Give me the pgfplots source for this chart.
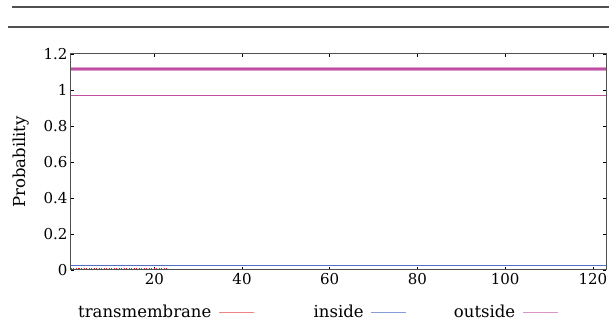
\documentclass[border=0pt]{standalone}
\usepackage{fontspec}
\setmainfont{DejaVu Serif}
\usepackage{pgfplots}
\pgfplotsset{compat=1.18}
\definecolor{tmred}{HTML}{E02020}
\definecolor{inblue}{HTML}{5470C8}
\definecolor{outpink}{HTML}{C04FA4}
\definecolor{axgray}{HTML}{505050}
\begin{document}
\begin{tikzpicture}
\begin{axis}[
  scale only axis,
  width=535pt, height=216pt,
  xmin=1, xmax=123, ymin=0, ymax=1.2,
  xtick={20,40,60,80,100,120},
  ytick={0,0.2,0.4,0.6,0.8,1,1.2},
  yticklabels={0,0.2,0.4,0.6,0.8,1,1.2},
  tick align=inside,
  major tick length=3pt,
  axis line style={axgray, line width=1pt},
  tick style={black, line width=0.6pt},
  tick label style={font=\fontsize{15}{17}\selectfont},
  /pgf/number format/assume math mode=true,
  ylabel={Probability},
  ylabel style={font=\fontsize{16.5}{18}\selectfont, yshift=8pt},
  legend plot pos=right,
  legend columns=3,
  legend style={draw=none, fill=none, at={(0,0)}, anchor=north west, xshift=2pt, yshift=-31pt,
    font=\fontsize{16.5}{18}\selectfont,
    /tikz/column 1/.style={column sep=5pt},
    /tikz/column 3/.style={column sep=5pt},
    /tikz/column 5/.style={column sep=5pt},
    /tikz/column 2/.style={column sep=57pt},
    /tikz/column 4/.style={column sep=45pt}},
  legend image code/.code={\draw[#1, line width=1.3pt] (0pt,0pt) -- (35pt,0pt);},
  clip=false,
]
\addplot[inblue, line width=1pt, forget plot] coordinates {(1,0.024) (123,0.024)};
\addplot[outpink, line width=1pt, forget plot] coordinates {(1,0.972) (123,0.972)};
\addplot[outpink!55, line width=3.6pt, forget plot] coordinates {(1,1.117) (123,1.117)};
\addplot[outpink, line width=2.2pt, forget plot] coordinates {(1,1.117) (123,1.117)};
\addplot[tmred, dash pattern=on 1pt off 1.5pt, line width=1.1pt, forget plot] coordinates {(1,0.007) (23,0.007)};
\addlegendimage{color=tmred!55}
\addlegendentry{transmembrane}
\addlegendimage{color=inblue!70}
\addlegendentry{inside}
\addlegendimage{color=outpink!60}
\addlegendentry{outside}
\end{axis}
\draw[axgray, line width=1.3pt] (-59pt,263pt) -- (538pt,263pt);
\draw[axgray, line width=1.3pt] (-63pt,243pt) -- (538pt,243pt);
\pgfresetboundingbox
\path (-71pt,-61pt) rectangle (538pt,270pt);
\end{tikzpicture}
\end{document}
